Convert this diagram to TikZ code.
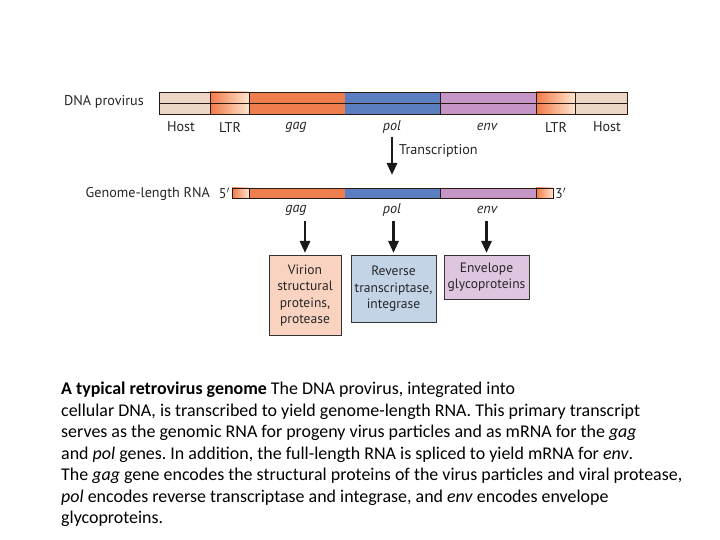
\documentclass[tikz,border=0pt]{standalone}
\usepackage{fontspec}
\setmainfont{Carlito}
\newfontfamily\labelfont{PT Sans}
\usetikzlibrary{arrows.meta}
\definecolor{hostc}{HTML}{EDD6C6}
\definecolor{ltrA}{HTML}{F27A48}
\definecolor{ltrB}{HTML}{FDE4CE}
\definecolor{gagc}{HTML}{EF7E4F}
\definecolor{polc}{HTML}{5B7EC0}
\definecolor{envc}{HTML}{C595C6}
\definecolor{barline}{HTML}{2A1A14}
\definecolor{gagboxc}{HTML}{FAD3C0}
\definecolor{polboxc}{HTML}{C4D4E7}
\definecolor{envboxc}{HTML}{DFC6E0}
\frenchspacing
\begin{document}
\begin{tikzpicture}[x=1bp,y=-1bp,
  lbl/.style={font=\labelfont\fontsize{14.2}{16}\selectfont, inner sep=0, text=black!85},
  ilbl/.style={lbl, font=\labelfont\itshape\fontsize{14.2}{16}\selectfont},
  outline/.style={draw=barline, line width=0.8bp},
  hostseg/.style={fill=hostc},
  ltrseg/.style={left color=ltrA, right color=ltrB},
  gagseg/.style={fill=gagc},
  polseg/.style={fill=polc},
  envseg/.style={fill=envc},
  protbox/.style={draw=black!80, line width=0.8bp, align=center, inner sep=2bp,
    font=\labelfont\fontsize{13.6}{16.5}\selectfont, text=black!85, anchor=north},
  bigarrow/.style={-{Triangle[width=10bp,length=12bp]}, line width=2.8bp, black!90},
  caption/.style={font=\fontsize{18}{21.6}\selectfont, align=left, inner sep=0, anchor=north west}
]
\useasboundingbox (0,0) rectangle (720,540);
\fill[white] (0,0) rectangle (720,540);

% ---- DNA provirus bar ----
\foreach \ya/\yb in {92/103,103/114}{
  \path[hostseg] (159,\ya) rectangle (210,\yb);
  \path[ltrseg]  (210,\ya) rectangle (249,\yb);
  \path[gagseg]  (249,\ya) rectangle (345,\yb);
  \path[polseg]  (345,\ya) rectangle (440,\yb);
  \path[envseg]  (440,\ya) rectangle (536,\yb);
  \path[ltrseg]  (536,\ya) rectangle (575,\yb);
  \path[hostseg] (575,\ya) rectangle (627,\yb);
}
\draw[outline] (159,92) rectangle (627,114);
\draw[outline] (159,103) -- (627,103);
\foreach \x in {210,249,440,536,575}{ \draw[outline] (\x,92) -- (\x,114); }

% ---- RNA bar ----
\path[ltrseg] (232,188) rectangle (249,198);
\path[gagseg] (249,188) rectangle (345,198);
\path[polseg] (345,188) rectangle (440,198);
\path[envseg] (440,188) rectangle (536,198);
\path[ltrseg] (536,188) rectangle (553,198);
\draw[outline] (232,188) rectangle (553,198);
\foreach \x in {249,440,536}{ \draw[outline] (\x,188) -- (\x,198); }
\coordinate (rnatop) at (392,188);

% ---- labels ----
\node[lbl, anchor=east] (dnalbl) at (144,102) {DNA provirus};
\node[lbl] (host1) at (181,127) {Host};
\node[lbl] (ltr1) at (230,127) {LTR};
\node[ilbl] (gag1) at (296,127) {gag};
\node[ilbl] (pol1) at (392,127) {pol};
\node[ilbl] (env1) at (487,127) {env};
\node[lbl] (ltr2) at (556,127) {LTR};
\node[lbl] (host2) at (607,127) {Host};

\node[lbl, anchor=east] (rnalbl) at (210,194) {Genome-length RNA};
\node[lbl, anchor=east] (five) at (230,193) {5$'$};
\node[lbl, anchor=west] (three) at (555,193) {3$'$};

\node[ilbl] (gag2) at (296,210) {gag};
\node[ilbl] (pol2) at (392,210) {pol};
\node[ilbl] (env2) at (487,210) {env};

% ---- transcription arrow ----
\coordinate (tstart) at (392,137);
\draw[bigarrow] (tstart) -- ([yshift=13bp]rnatop);
\node[lbl, anchor=west] (translbl) at (399,151) {Transcription};

% ---- protein boxes ----
\node[protbox, fill=gagboxc, minimum width=72bp, minimum height=80bp] (gagbox) at (305,255)
  {Virion\\structural\\proteins,\\protease};
\node[protbox, fill=polboxc, minimum width=85bp, minimum height=67bp] (polbox) at (393.5,255)
  {Reverse\\transcriptase,\\integrase};
\node[protbox, fill=envboxc, minimum width=85bp, minimum height=44bp] (envbox) at (486.5,255)
  {Envelope\\glycoproteins};

\draw[bigarrow] ([yshift=34bp]gagbox.north) -- ([yshift=2bp]gagbox.north);
\draw[bigarrow] ([yshift=34bp]polbox.north) -- ([yshift=2bp]polbox.north);
\draw[bigarrow] ([yshift=34bp]envbox.north) -- ([yshift=2bp]envbox.north);

% ---- caption ----
\node[caption] (cap) at (61,382) {\textbf{A typical retrovirus genome} The DNA provirus, integrated into\\
cellular DNA, is transcribed to yield genome-length RNA. This primary transcript\\
serves as the genomic RNA for progeny virus particles and as mRNA for the \textit{gag}\\
and \textit{pol} genes. In addition, the full-length RNA is spliced to yield mRNA for \textit{env}.\\
The \textit{gag} gene encodes the structural proteins of the virus particles and viral protease,\\
\textit{pol} encodes reverse transcriptase and integrase, and \textit{env} encodes envelope\\
glycoproteins.};
\end{tikzpicture}
\end{document}
